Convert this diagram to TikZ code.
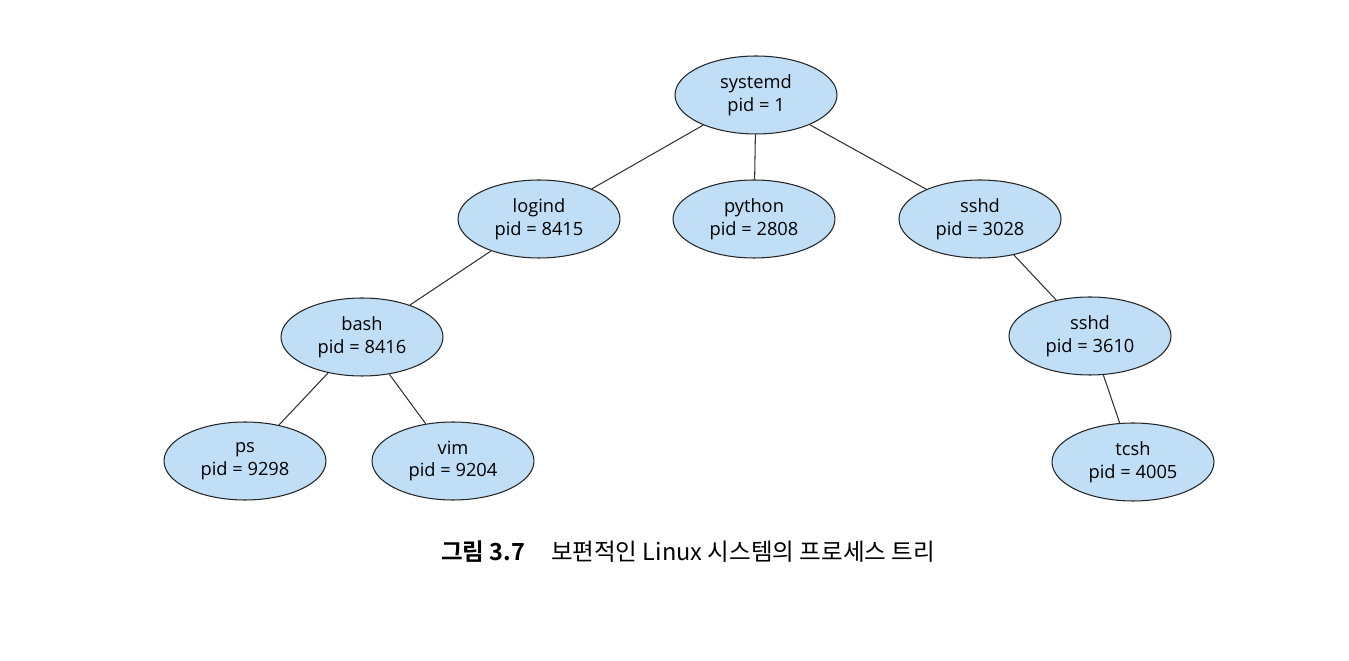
\documentclass[tikz,border=0pt]{standalone}
\usepackage{fontspec}
\setmainfont{Open Sans}
\newfontfamily\krfont{Noto Sans CJK KR}[BoldFont={Noto Sans CJK KR Bold}]
\usetikzlibrary{shapes.geometric}
\definecolor{procblue}{RGB}{192,222,246}

\begin{document}
\begin{tikzpicture}[x=0.02cm,y=-0.02cm,
   proc/.style={ellipse,draw=black!85,line width=0.6pt,fill=procblue,minimum width=3.24cm,
      minimum height=1.56cm,inner sep=0pt,align=center,font=\fontsize{10.4}{13}\selectfont},
   link/.style={draw=black!80,line width=0.6pt}]
   \useasboundingbox (0,0) rectangle (1349,661);
   \node[proc] (systemd) at (756,95) {systemd\\pid = 1};
   \node[proc] (logind) at (539,219) {logind\\pid = 8415};
   \node[proc] (python) at (754,219) {python\\pid = 2808};
   \node[proc] (sshdA) at (980,219) {sshd\\pid = 3028};
   \node[proc] (bash) at (362,337) {bash\\pid = 8416};
   \node[proc] (sshdB) at (1090,336) {sshd\\pid = 3610};
   \node[proc] (ps) at (245,461) {ps\\pid = 9298};
   \node[proc] (vim) at (453,461) {vim\\pid = 9204};
   \node[proc] (tcsh) at (1133,462) {tcsh\\pid = 4005};
   \draw[link] (systemd) -- (logind);
   \draw[link] (systemd) -- (python);
   \draw[link] (systemd) -- (sshdA);
   \draw[link] (logind) -- (bash);
   \draw[link] (sshdA) -- (sshdB);
   \draw[link] (bash) -- (ps);
   \draw[link] (bash) -- (vim);
   \draw[link] (sshdB) -- (tcsh);
   \node[font=\krfont\fontsize{13.4}{16}\selectfont] (caption) at (688,552)
      {\textbf{그림 3.7}\hspace{1.1em}보편적인 Linux 시스템의 프로세스 트리};
\end{tikzpicture}
\end{document}
